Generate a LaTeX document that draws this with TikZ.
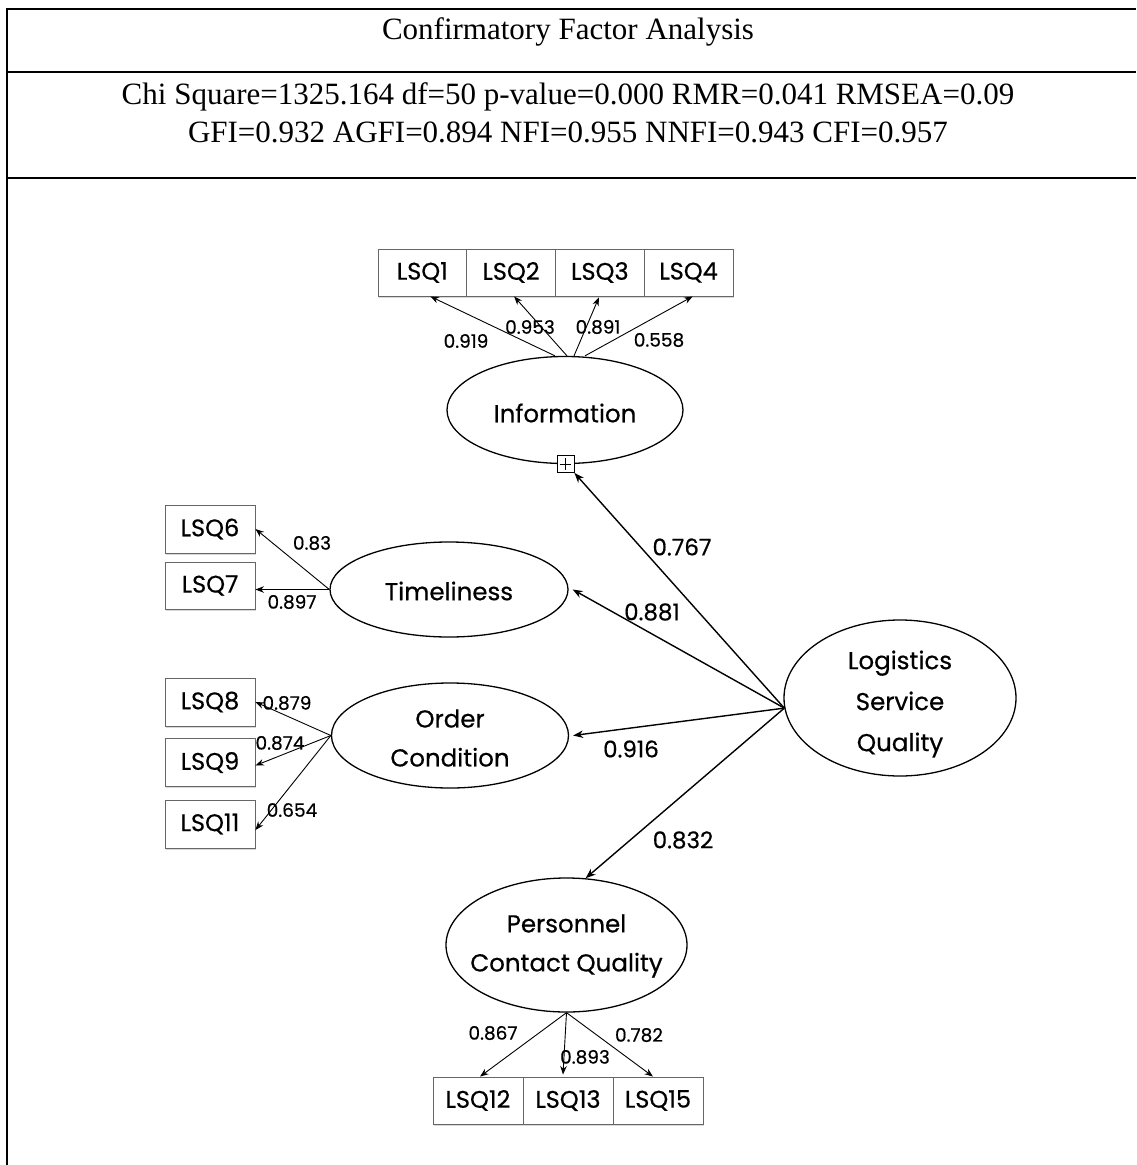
\documentclass[tikz,border=0pt]{standalone}
\usepackage{fontspec}
\setmainfont{Liberation Serif}
\newfontfamily\diagfont{Poppins}[FakeBold=0.5]
\usetikzlibrary{arrows.meta,shapes.geometric,shadows}

\begin{document}
\begin{tikzpicture}[x=1pt,y=-1pt,
  hdr/.style={font=\fontsize{31}{38}\selectfont, inner sep=0pt, anchor=base},
  factor/.style={ellipse, draw, line width=1.3pt, inner sep=0pt},
  ftext/.style={font=\diagfont\fontsize{24.5}{39}\selectfont, align=center, inner sep=0pt},
  item/.style={rectangle, draw=black!60, line width=0.9pt, minimum height=47pt,
    minimum width=89pt, inner sep=0pt, fill=white,
    font=\diagfont\fontsize{24}{26}\selectfont,
    drop shadow={shadow xshift=0.8pt, shadow yshift=-1.8pt, opacity=0.3}},
  load/.style={font=\diagfont\fontsize{18.5}{20}\selectfont, inner sep=0pt},
  bigload/.style={font=\diagfont\fontsize{23}{26}\selectfont, inner sep=0pt},
  link/.style={line width=0.9pt, -{Stealth[length=8.5pt,width=6.5pt]}},
  struct/.style={line width=1.4pt, -{Stealth[length=10pt,width=7.5pt]}},
  rule/.style={line width=1.6pt}
]
\useasboundingbox (0,0) rectangle (1136,1165);

% table frame
\draw[rule] (7,9) -- (1136,9);
\draw[rule] (7,72) -- (1136,72);
\draw[rule] (7,178) -- (1136,178);
\draw[rule] (7,8.2) -- (7,1165);

% header texts
\node[hdr] (title) at (568,39) {Confirmatory Factor Analysis};
\node[hdr] (fit1) at (568,104) {Chi Square=1325.164 df=50 p-value=0.000 RMR=0.041 RMSEA=0.09};
\node[hdr] (fit2) at (568,142) {GFI=0.932 AGFI=0.894 NFI=0.955 NNFI=0.943 CFI=0.957};

% latent variables
\node[factor, minimum width=236pt, minimum height=107pt] (info) at (565,410) {};
\node[ftext] (infot) at (565,413) {Information};
\node[factor, minimum width=238pt, minimum height=95pt] (time) at (449,589.5) {};
\node[ftext] (timet) at (449,591) {Timeliness};
\node[factor, minimum width=237pt, minimum height=105pt] (order) at (450,735.5) {};
\node[ftext] (ordert) at (450,738) {Order\\Condition};
\node[factor, minimum width=241pt, minimum height=134pt] (pers) at (566.5,945) {};
\node[ftext] (perst) at (566.5,946) {Personnel\\Contact Quality};
\node[factor, minimum width=232pt, minimum height=156pt] (lsq) at (900,698) {};
\node[ftext, font=\diagfont\fontsize{24.5}{41}\selectfont] (lsqt) at (900,704) {Logistics\\Service\\Quality};

% collapse marker under Information
\node[draw, fill=white, line width=0.8pt, minimum width=17pt, minimum height=17pt, inner sep=0pt] (infobox) at (565.5,464) {};
\draw[line width=0.8pt] ([yshift=-3pt]infobox.north) -- ([yshift=3pt]infobox.south);
\draw[line width=0.8pt] ([xshift=3pt]infobox.west) -- ([xshift=-3pt]infobox.east);

% indicators
\node[item, minimum width=88.75pt] (q1) at (422.4,272.5) {LSQ1};
\node[item, minimum width=88.75pt] (q2) at (511.1,272.5) {LSQ2};
\node[item, minimum width=88.75pt] (q3) at (599.9,272.5) {LSQ3};
\node[item, minimum width=88.75pt] (q4) at (688.6,272.5) {LSQ4};

\node[item, minimum width=90pt, minimum height=48pt] (q6) at (210,529) {LSQ6};
\node[item, minimum width=90pt] (q7) at (210,585.5) {LSQ7};

\node[item, minimum width=90pt, minimum height=48pt] (q8) at (210,702) {LSQ8};
\node[item, minimum width=90pt, minimum height=48pt] (q9) at (210,762.5) {LSQ9};
\node[item, minimum width=90pt, minimum height=48pt] (q11) at (210,824) {LSQ11};

\node[item, minimum width=90pt] (q12) at (478,1100.5) {LSQ12};
\node[item, minimum width=90pt] (q13) at (568,1100.5) {LSQ13};
\node[item, minimum width=90pt] (q15) at (658,1100.5) {LSQ15};

% second-order paths
\draw[struct] (lsq.185) -- (infobox.south east);
\draw[struct] (lsq.185) -- ([xshift=4pt]time.east);
\draw[struct] (lsq.185) -- ([xshift=4pt]order.east);
\draw[struct] (lsq.185) -- (pers.74);

% loadings: Information
\draw[link] ([xshift=-10pt]info.north) -- ([xshift=8pt]q1.south);
\draw[link] ([xshift=2pt]info.north) -- ([xshift=3pt]q2.south);
\draw[link] ([xshift=9pt]info.north) -- ([xshift=-1pt,yshift=-1pt]q3.south);
\draw[link] ([xshift=20pt]info.north) -- ([xshift=4pt]q4.south);

% loadings: Timeliness
\draw[link] (time.west) -- (q6.east);
\draw[link] (time.west) -- ([yshift=-4pt]q7.east);

% loadings: Order Condition
\draw[link] (order.west) -- (q8.east);
\draw[link] (order.west) -- ([yshift=-3pt]q9.east);
\draw[link] (order.west) -- ([yshift=-6pt]q11.east);

% loadings: Personnel Contact Quality
\draw[link] (pers.south) -- ([xshift=2pt]q12.north);
\draw[link] (pers.south) -- ([xshift=-5pt,yshift=2pt]q13.north);
\draw[link] (pers.south) -- ([xshift=-5pt]q15.north);

% loading values
\node[load] (l1) at (466,341) {0.919};
\node[load] (l2) at (530,327) {0.953};
\node[load] (l3) at (598,327) {0.891};
\node[load] (l4) at (659,340) {0.558};
\node[load] (l6) at (312,543) {0.83};
\node[load] (l7) at (292,602) {0.897};
\node[load] (l8) at (287,703) {0.879};
\node[load] (l9) at (280,743) {0.874};
\node[load] (l11) at (292,810) {0.654};
\node[load] (l12) at (493,1033) {0.867};
\node[load] (l13) at (585,1057) {0.893};
\node[load] (l15) at (639,1035) {0.782};

\node[bigload] (p1) at (682,547) {0.767};
\node[bigload] (p2) at (652,612) {0.881};
\node[bigload] (p3) at (631,749) {0.916};
\node[bigload] (p4) at (683,840) {0.832};
\end{tikzpicture}
\end{document}
